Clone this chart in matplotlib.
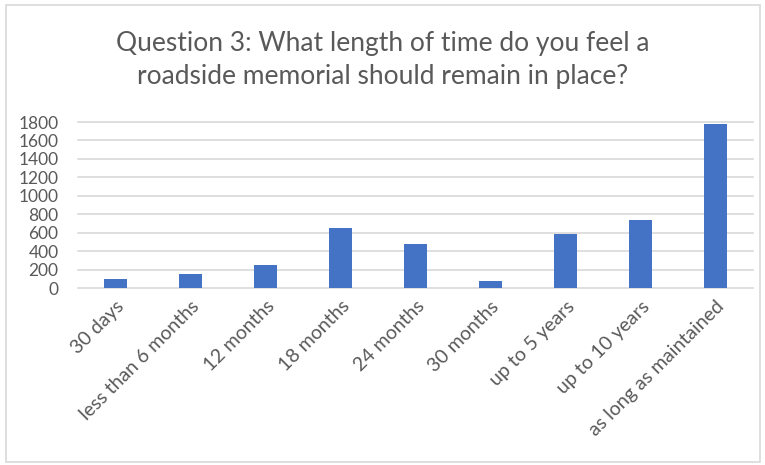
import matplotlib
matplotlib.use("Agg")
import matplotlib.pyplot as plt
from matplotlib.patches import Rectangle

categories = ["30 days", "less than 6 months", "12 months", "18 months",
              "24 months", "30 months", "up to 5 years", "up to 10 years",
              "as long as maintained"]
counts = [95, 152, 254, 656, 474, 72, 587, 742, 1778]
yticks = [0, 200, 400, 600, 800, 1000, 1200, 1400, 1600, 1800]

plt.rcParams['font.family'] = ['Lato', 'DejaVu Sans']
text_color = "#595959"
grid_color = "#D9D9D9"

fig = plt.figure(figsize=(7.65, 4.65), dpi=100)
ax = fig.add_axes([78 / 765, 1 - 288 / 465, (753 - 78) / 765, (288 - 122) / 465])

x = list(range(len(categories)))
ax.bar(x, counts, width=0.31, color="#4472C4", zorder=3)

ax.set_xlim(-0.5, len(categories) - 0.5)
ax.set_ylim(0, 1800)
ax.set_yticks(yticks)
ax.set_xticks(x)
ax.set_xticklabels(categories, rotation=45, ha="right", rotation_mode="anchor")
ax.tick_params(axis="both", length=0, colors=text_color)
ax.tick_params(axis="y", pad=14, labelsize=12.5)
ax.tick_params(axis="x", pad=7, labelsize=14)
ax.grid(axis="y", color=grid_color, linewidth=1.2, zorder=0, clip_on=False)
for s in ax.spines.values():
    s.set_visible(False)

fig.suptitle("Question 3: What length of time do you feel a\nroadside memorial should remain in place?",
             y=1 - 31 / 465, va="top", fontsize=19, color=text_color, linespacing=1.4)

fig.patches.append(Rectangle((6 / 765, 3 / 465), 754 / 765, 457 / 465,
                             transform=fig.transFigure, fill=False,
                             edgecolor=grid_color, linewidth=1.2))

fig.savefig("out.png", dpi=100)
